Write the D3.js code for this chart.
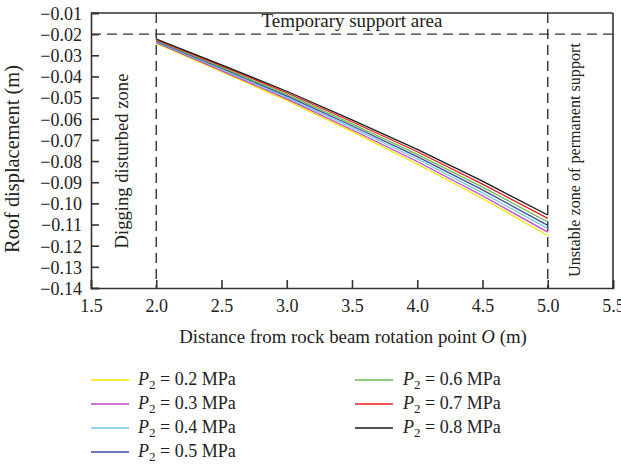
<!DOCTYPE html>
<html>
<head>
<meta charset="utf-8">
<script src="https://cdn.jsdelivr.net/npm/d3@7"></script>
<style>
  body { margin: 0; background: #fff; }
  svg { display: block; font-family: "Liberation Serif", "Times New Roman", serif; }
</style>
</head>
<body>
<svg id="chart" width="621" height="468"></svg>
<script>
// ---- data ----
const distance = [2.0, 2.5, 3.0, 3.5, 4.0, 4.5, 5.0];
const p02 = [-0.0244, -0.0377, -0.0513, -0.0661, -0.0814, -0.0977, -0.1152];
const p03 = [-0.0240, -0.0372, -0.0506, -0.0652, -0.0802, -0.0964, -0.1136];
const p04 = [-0.0237, -0.0366, -0.0499, -0.0642, -0.0790, -0.0950, -0.1119];
const p05 = [-0.0233, -0.0361, -0.0492, -0.0633, -0.0779, -0.0936, -0.1104];
const p06 = [-0.0230, -0.0356, -0.0485, -0.0624, -0.0768, -0.0923, -0.1088];
const p07 = [-0.0226, -0.0350, -0.0477, -0.0614, -0.0756, -0.0909, -0.1071];
const p08 = [-0.0223, -0.0345, -0.0470, -0.0605, -0.0745, -0.0895, -0.1055];
const pressureLabels = ["0.2", "0.3", "0.4", "0.5", "0.6", "0.7", "0.8"];
const seriesColors = ["#f5e400", "#c93fc4", "#72c8e2", "#3b4c9c", "#6dbb52", "#ee1c1c", "#1a1a1a"];
const xTicks = [1.5, 2.0, 2.5, 3.0, 3.5, 4.0, 4.5, 5.0, 5.5];
const yTicks = [-0.01, -0.02, -0.03, -0.04, -0.05, -0.06, -0.07, -0.08, -0.09, -0.10, -0.11, -0.12, -0.13, -0.14];
const tempSupportLevel = -0.02;
const zoneBoundaries = [2.0, 5.0];

const seriesValues = [p02, p03, p04, p05, p06, p07, p08];

// ---- layout ----
const L = 91, R = 613, T = 13, B = 288;
const svg = d3.select("#chart");
const x = d3.scaleLinear().domain([1.5, 5.5]).range([L, R]);
const y = d3.scaleLinear().domain([-0.14, -0.01]).range([B, T]);
const axisColor = "#333";
const textColor = "#222";
const minus = s => s.replace("-", "\u2212");

// scale a text's font size so its length matches a target width
function fitText(sel, target) {
  const fs = parseFloat(sel.attr("font-size"));
  const len = sel.node().getComputedTextLength();
  if (len > 0) sel.attr("font-size", (fs * target / len).toFixed(2));
  return sel;
}

// dashed reference lines
svg.append("line")
  .attr("x1", x(1.5)).attr("x2", x(5.5))
  .attr("y1", y(tempSupportLevel)).attr("y2", y(tempSupportLevel))
  .attr("stroke", axisColor).attr("stroke-width", 1.4).attr("stroke-dasharray", "10,6");
zoneBoundaries.forEach(b => {
  svg.append("line")
    .attr("x1", x(b)).attr("x2", x(b))
    .attr("y1", T).attr("y2", B)
    .attr("stroke", axisColor).attr("stroke-width", 1.4).attr("stroke-dasharray", "10,6");
});

// curves
const line = d3.line().x((d, i) => x(distance[i])).y(d => y(d));
seriesValues.forEach((vals, k) => {
  svg.append("path")
    .datum(vals)
    .attr("fill", "none")
    .attr("stroke", seriesColors[k])
    .attr("stroke-width", 1.3)
    .attr("d", line);
});

// axes
const xAxis = d3.axisBottom(x).tickValues(xTicks).tickSize(-8).tickFormat(d3.format(".1f"));
const gx = svg.append("g").attr("transform", `translate(0,${B})`).call(xAxis);
gx.selectAll("text").attr("y", 24).attr("dy", 0).attr("font-size", 18).attr("fill", textColor)
  .attr("font-family", "Liberation Serif, serif");

const yAxis = d3.axisLeft(y).tickValues(yTicks).tickSize(-8).tickFormat(d => minus(d3.format(".2f")(d)));
const gy = svg.append("g").attr("transform", `translate(${L},0)`).call(yAxis);
gy.selectAll("text").attr("x", -9).attr("dy", "0.35em").attr("font-size", 18).attr("fill", textColor)
  .attr("font-family", "Liberation Serif, serif");

[gx, gy].forEach(g => {
  g.select(".domain").attr("stroke", axisColor).attr("stroke-width", 1.6);
  g.selectAll(".tick line").attr("stroke", axisColor).attr("stroke-width", 1.6);
});

// top and right border
svg.append("line").attr("x1", L).attr("x2", R).attr("y1", T).attr("y2", T)
  .attr("stroke", axisColor).attr("stroke-width", 1.6);
svg.append("line").attr("x1", R).attr("x2", R).attr("y1", T).attr("y2", B)
  .attr("stroke", axisColor).attr("stroke-width", 1.6);

// annotations
fitText(svg.append("text").attr("x", 352).attr("y", 27).attr("text-anchor", "middle")
  .attr("font-size", 18).attr("fill", textColor).text("Temporary support area"), 181);
fitText(svg.append("text").attr("transform", "translate(128,161) rotate(-90)").attr("text-anchor", "middle")
  .attr("font-size", 18).attr("fill", textColor).text("Digging disturbed zone"), 175);
fitText(svg.append("text").attr("transform", "translate(580,160) rotate(-90)").attr("text-anchor", "middle")
  .attr("font-size", 16).attr("fill", textColor).text("Unstable zone of permanent support"), 234);

// axis titles
fitText(svg.append("text").attr("transform", "translate(19,159) rotate(-90)").attr("text-anchor", "middle")
  .attr("font-size", 18).attr("fill", textColor).text("Roof displacement (m)"), 188);
const xt = svg.append("text").attr("x", 353).attr("y", 343).attr("text-anchor", "middle")
  .attr("font-size", 18).attr("fill", textColor);
xt.append("tspan").text("Distance from rock beam rotation point ");
xt.append("tspan").attr("font-style", "italic").text("O");
xt.append("tspan").text(" (m)");
fitText(xt, 348);

// legend
const legendCols = [{lx: 91, tx: 138}, {lx: 355, tx: 403}];
const rowY = [380, 404, 428, 452];
seriesValues.forEach((vals, k) => {
  const col = k < 4 ? legendCols[0] : legendCols[1];
  const ry = rowY[k < 4 ? k : k - 4];
  svg.append("line").attr("x1", col.lx).attr("x2", col.lx + 38)
    .attr("y1", ry).attr("y2", ry).attr("stroke", seriesColors[k]).attr("stroke-width", 1.6);
  const t = svg.append("text").attr("x", col.tx).attr("y", ry + 5)
    .attr("font-size", 18).attr("fill", textColor);
  t.append("tspan").attr("font-style", "italic").text("P");
  t.append("tspan").attr("font-size", 13).attr("dy", 4).text("2");
  t.append("tspan").attr("dy", -4).text(" = " + pressureLabels[k] + " MPa");
});
</script>
</body>
</html>
